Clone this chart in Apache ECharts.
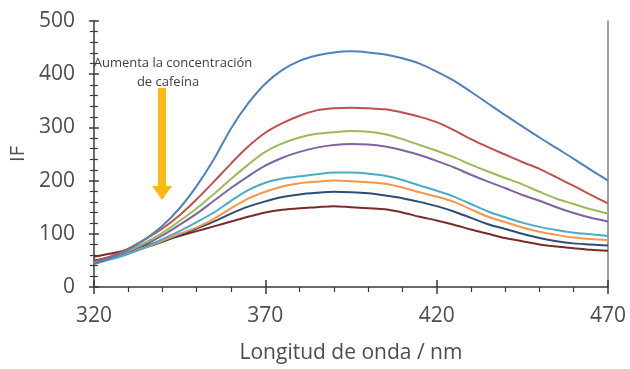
<!DOCTYPE html>
<html>
<head>
<meta charset="utf-8">
<script src="https://cdn.jsdelivr.net/npm/echarts@6/dist/echarts.min.js"></script>
<style>
html,body{margin:0;padding:0;background:#fff;}
#chart{width:630px;height:369px;}
</style>
</head>
<body>
<div id="chart"></div>
<script>
// Wavelengths (nm)
var wavelengths = [320,325,330,335,340,345,350,355,360,365,370,375,380,385,390,395,400,405,410,415,420,425,430,435,440,445,450,455,460,465,470];
// Fluorescence intensity per caffeine concentration (top to bottom)
var serie1 = [43,55,70,90,115,148,190,240,298,345,382,408,425,435,441,443,441,437,430,420,405,388,367,345,323,302,281,261,241,220,200];
var serie2 = [48,58,72,90,110,135,165,198,232,264,290,308,322,332,336,337,336,334,328,320,310,295,278,263,249,235,222,206,190,173,157];
var serie3 = [46,56,68,84,102,124,148,175,203,230,254,270,281,288,291,293,292,287,278,267,256,244,230,217,205,193,179,166,156,146,138];
var serie4 = [45,55,66,80,97,117,138,162,186,208,228,243,254,262,267,269,268,264,257,248,237,225,211,198,186,173,162,150,139,130,123];
var serie5 = [44,52,62,75,90,105,122,140,162,182,196,204,208,212,215,215,213,209,201,191,181,170,156,142,131,121,113,107,102,99,96];
var serie6 = [47,54,63,74,87,100,112,128,148,166,179,189,195,198,200,199,197,194,187,178,170,160,146,132,122,112,104,98,93,90,88];
var serie7 = [50,56,64,74,85,97,110,123,138,151,161,169,174,177,179,178,176,172,167,160,152,142,130,118,109,100,92,86,82,80,78];
var serie8 = [57,63,70,78,87,96,105,114,123,132,140,145,148,150,152,150,148,146,140,132,125,117,108,100,92,86,80,76,73,70,68];
var seriesValues = [serie1,serie2,serie3,serie4,serie5,serie6,serie7,serie8];
var seriesColors = ['#4F81BD','#C0504D','#9BBB59','#8064A2','#4BACC6','#F79646','#2C4D75','#772C2A'];
var xTicks = [320,370,420,470];
var yTicks = [0,100,200,300,400,500];
var annotationLines = ['Aumenta la concentración','de cafeína'];

var font = '"Open Sans", "Liberation Sans", sans-serif';
var chart = echarts.init(document.getElementById('chart'), null, {renderer:'canvas'});

var series = seriesValues.map(function(vals, i){
  return {
    type:'line',
    xAxisIndex:0, yAxisIndex:0,
    data: wavelengths.map(function(w, j){ return [w, vals[j]]; }),
    showSymbol:false,
    smooth:0.3,
    lineStyle:{color:seriesColors[i], width:2},
    itemStyle:{color:seriesColors[i]},
    z: 10 - i
  };
});

var labelColor = '#4d4d4d';
var axisColor = '#3a3a3a';

chart.setOption({
  animation:false,
  backgroundColor:'#ffffff',
  grid:{left:83, right:22, top:21, bottom:80, containLabel:false},
  xAxis:[{
    type:'value', min:xTicks[0], max:xTicks[xTicks.length-1], interval:50,
    position:'bottom',
    name:'Longitud de onda / nm', nameLocation:'middle', nameGap:56,
    nameTextStyle:{fontFamily:font, fontSize:21, color:labelColor},
    axisLine:{show:true, onZero:false, lineStyle:{color:axisColor, width:1.5}},
    axisTick:{show:true, inside:false, length:7, lineStyle:{color:axisColor, width:1.5}},
    minorTick:{show:true, splitNumber:5, length:5, lineStyle:{color:axisColor, width:1.2}},
    axisLabel:{fontFamily:font, fontSize:21, color:labelColor, margin:19},
    splitLine:{show:false}, minorSplitLine:{show:false}
  },{
    type:'value', min:xTicks[0], max:xTicks[xTicks.length-1], interval:50,
    position:'bottom',
    axisLine:{show:false, onZero:false},
    axisTick:{show:true, inside:true, length:7, lineStyle:{color:axisColor, width:1.5}},
    minorTick:{show:false},
    axisLabel:{show:false}, splitLine:{show:false}
  }],
  yAxis:[{
    type:'value', min:yTicks[0], max:yTicks[yTicks.length-1], interval:100,
    position:'left',
    name:'IF', nameLocation:'middle', nameGap:59, nameRotate:90,
    nameTextStyle:{fontFamily:font, fontSize:20, color:labelColor},
    axisLine:{show:true, onZero:false, lineStyle:{color:axisColor, width:1.5}},
    axisTick:{show:true, inside:false, length:5, lineStyle:{color:axisColor, width:1.5}},
    minorTick:{show:true, splitNumber:5, length:4, lineStyle:{color:axisColor, width:1.2}},
    axisLabel:{fontFamily:font, fontSize:21, color:labelColor, margin:19},
    splitLine:{show:false}, minorSplitLine:{show:false}
  },{
    type:'value', min:yTicks[0], max:yTicks[yTicks.length-1], interval:100,
    position:'left', offset:0,
    axisLine:{show:false, onZero:false},
    axisTick:{show:true, inside:true, length:5, lineStyle:{color:axisColor, width:1.5}},
    minorTick:{show:true, splitNumber:5, length:4, lineStyle:{color:axisColor, width:1.2}},
    axisLabel:{show:false}, splitLine:{show:false}
  },{
    type:'value', min:yTicks[0], max:yTicks[yTicks.length-1], interval:100,
    position:'right',
    axisLine:{show:true, onZero:false, lineStyle:{color:'#7f7f7f', width:1.5}},
    axisTick:{show:false}, axisLabel:{show:false}, splitLine:{show:false}
  }],
  series: series,
  graphic:[
    {type:'text', x:173, y:63, style:{text:annotationLines[0], font:'13px ' + font, fill:'#404040', align:'center', verticalAlign:'middle'}},
    {type:'text', x:168, y:82, style:{text:annotationLines[1], font:'13px ' + font, fill:'#404040', align:'center', verticalAlign:'middle'}},
    {type:'rect', shape:{x:158, y:88, width:8, height:99}, style:{fill:'#FDB913'}},
    {type:'polygon', shape:{points:[[152,186],[172,186],[162,200]]}, style:{fill:'#FDB913'}}
  ]
});
</script>
</body>
</html>
